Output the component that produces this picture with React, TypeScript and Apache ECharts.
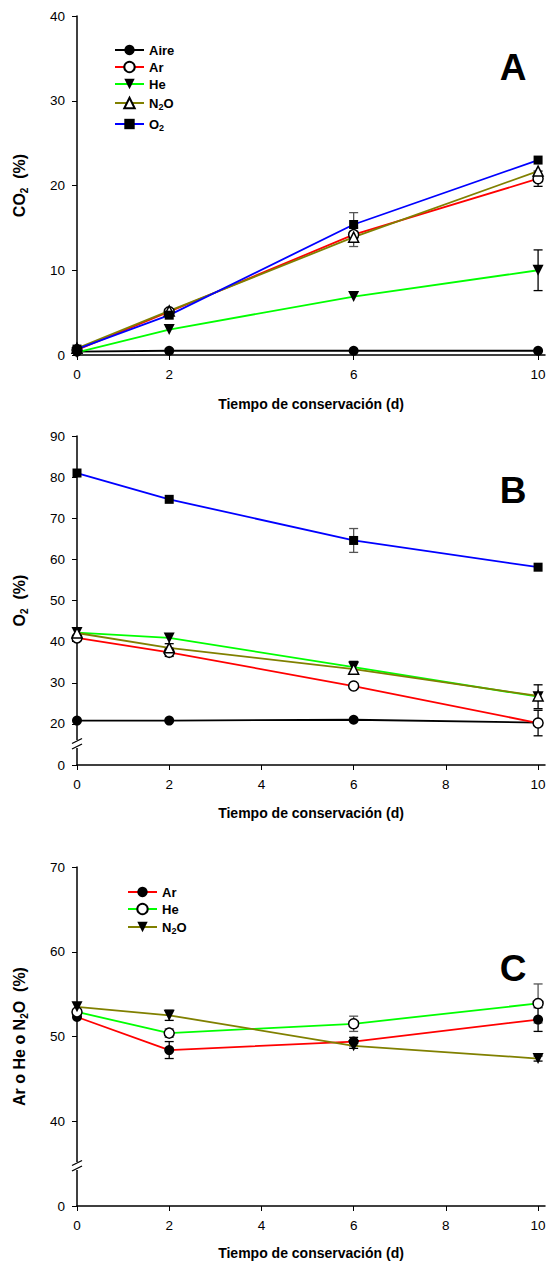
import React, { useEffect, useRef } from "react";
import * as echarts from "echarts";

const FONT = "'Liberation Sans', Arial, Helvetica, sans-serif";

// ---------- Panel A: CO2 (%) ----------
const daysA = [0, 2, 6, 10];
const co2Aire = [0.4, 0.5, 0.5, 0.5];
const co2Ar = [0.6, 5.1, 14.2, 20.8];
const co2He = [0.3, 3.0, 6.9, 10.0];
const co2N2O = [0.8, 5.2, 13.9, 21.7];
const co2O2 = [0.7, 4.7, 15.4, 23.0];
const co2ArErr = [0, 0, 0.4, 0.9];
const co2HeErr = [0, 0, 0, 2.4];
const co2N2OErr = [0, 0, 1.1, 0];
const co2O2Err = [0, 0, 1.4, 0];

// ---------- Panel B: O2 (%) ----------
const daysB = [0, 2, 6, 10];
const o2Aire = [20.8, 20.8, 21.0, 20.3];
const o2Ar = [40.9, 37.4, 29.2, 20.2];
const o2He = [42.2, 40.9, 33.8, 26.6];
const o2N2O = [42.1, 38.5, 33.3, 26.8];
const o2O2 = [81.0, 74.6, 64.6, 58.1];
const o2ArErr = [0, 1.0, 0, 3.1];
const o2HeErr = [0, 0, 1.4, 2.9];
const o2N2OErr = [0, 1.0, 0, 0];
const o2O2Err = [0, 0, 2.9, 0];

// ---------- Panel C: Ar o He o N2O (%) ----------
const daysC = [0, 2, 6, 10];
const gasAr = [52.3, 48.4, 49.4, 52.0];
const gasHe = [52.9, 50.4, 51.5, 53.9];
const gasN2O = [53.5, 52.5, 48.9, 47.4];
const gasArErr = [0, 1.0, 0.5, 1.4];
const gasHeErr = [0, 0.5, 0.9, 2.3];
const gasN2OErr = [0, 0.6, 0.3, 0.3];

const ticksA = [0, 2, 6, 10];
const ticksBC = [0, 2, 4, 6, 8, 10];

const RED = "#ff0000";
const GREEN = "#00ff00";
const OLIVE = "#808000";
const BLUE = "#0000ff";
const BLACK = "#000000";

const sub = (s: string) => s.replace(/2/g, "{sub|2}");

type Mk = { symbol: string; rotate?: number; open?: boolean; size: number };
const MK_FILLED_CIRCLE: Mk = { symbol: "circle", size: 10 };
const MK_OPEN_CIRCLE: Mk = { symbol: "circle", size: 10, open: true };
const MK_TRI_DOWN: Mk = { symbol: "triangle", rotate: 180, size: 11 };
const MK_OPEN_TRI: Mk = { symbol: "triangle", size: 10, open: true };
const MK_SQUARE: Mk = { symbol: "rect", size: 9 };

function lineSeries(name: string, xs: number[], ys: number[], color: string, mk: Mk, axis: number) {
  return {
    type: "line",
    name,
    xAxisIndex: axis,
    yAxisIndex: axis,
    data: xs.map((x, i) => [x, ys[i]]),
    symbol: mk.symbol,
    symbolSize: mk.size,
    symbolRotate: mk.rotate || 0,
    showAllSymbol: true,
    lineStyle: { color, width: 1.8 },
    itemStyle: mk.open
      ? { color: "#ffffff", borderColor: BLACK, borderWidth: 1.5 }
      : { color: BLACK, borderColor: BLACK, borderWidth: 0 },
    emphasis: { disabled: true },
    z: 3,
  };
}

function errSeries(xs: number[], ys: number[], errs: number[], color: string, axis: number) {
  const data = xs
    .map((x, i) => [x, ys[i] - errs[i], ys[i] + errs[i]])
    .filter((_, i) => errs[i] > 0);
  return {
    type: "custom",
    xAxisIndex: axis,
    yAxisIndex: axis,
    silent: true,
    z: 2,
    encode: { x: 0, y: [1, 2] },
    data,
    renderItem: (params: any, api: any) => {
      const x = api.value(0);
      const lo = api.value(1);
      const hi = api.value(2);
      const p1 = api.coord([x, hi]);
      const p2 = api.coord([x, lo]);
      const w = 4.5;
      const st = { stroke: color, lineWidth: 1.3 };
      return {
        type: "group",
        children: [
          { type: "line", shape: { x1: p1[0], y1: p1[1], x2: p2[0], y2: p2[1] }, style: st },
          { type: "line", shape: { x1: p1[0] - w, y1: p1[1], x2: p1[0] + w, y2: p1[1] }, style: st },
          { type: "line", shape: { x1: p2[0] - w, y1: p2[1], x2: p2[0] + w, y2: p2[1] }, style: st },
        ],
      };
    },
  };
}

function legendItem(name: string, left: number, top: number) {
  return {
    data: [name],
    left,
    top,
    orient: "vertical",
    itemWidth: 29,
    itemHeight: 13,
    itemGap: 0,
    padding: 0,
    selectedMode: false,
    formatter: (n: string) => sub(n.trim()),
    textStyle: {
      fontFamily: FONT,
      fontSize: 13,
      fontWeight: "bold",
      color: BLACK,
      lineHeight: 16,
      rich: {
        sub: { fontSize: 9, fontWeight: "bold", fontFamily: FONT, verticalAlign: "bottom", lineHeight: 8 },
      },
    },
  };
}

function xAxis(grid: number, ticks: number[], nameGap: number) {
  return {
    type: "value",
    gridIndex: grid,
    min: 0,
    max: 10.15,
    name: "Tiempo de conservación (d)",
    nameLocation: "middle",
    nameGap,
    nameTextStyle: { fontFamily: FONT, fontSize: 14, fontWeight: "bold", color: BLACK },
    axisLine: { show: true, onZero: false, lineStyle: { color: BLACK, width: 1.5 } },
    axisTick: { show: true, customValues: ticks, length: 5, lineStyle: { color: BLACK, width: 1 } },
    axisLabel: {
      customValues: ticks,
      margin: 12,
      fontFamily: FONT,
      fontSize: 13.5,
      color: BLACK,
      showMaxLabel: true,
    },
    splitLine: { show: false },
  };
}

function yAxis(grid: number, min: number, max: number, breakAt: number | null, name: string, nameGap: number) {
  return {
    type: "value",
    gridIndex: grid,
    min,
    max,
    interval: 10,
    name,
    nameLocation: "middle",
    nameRotate: 90,
    nameGap,
    nameTextStyle: {
      fontFamily: FONT,
      fontSize: 16,
      fontWeight: "bold",
      color: BLACK,
      lineHeight: 20,
      rich: {
        sub: { fontSize: 10, fontWeight: "bold", fontFamily: FONT, verticalAlign: "bottom", lineHeight: 10 },
      },
    },
    axisLine: { show: true, onZero: false, lineStyle: { color: BLACK, width: 1.5 } },
    axisTick: { show: true, length: 5, lineStyle: { color: BLACK, width: 1 } },
    axisLabel: {
      margin: 12,
      fontFamily: FONT,
      fontSize: 13.5,
      color: BLACK,
      formatter: (v: number) => (breakAt !== null && v === breakAt ? "0" : String(v)),
    },
    splitLine: { show: false },
  };
}

function breakMark(x: number, y: number) {
  const st = { stroke: BLACK, lineWidth: 1.3 };
  return [
    { type: "rect", shape: { x: x - 3, y: y - 4, width: 6, height: 8 }, style: { fill: "#ffffff" }, z: 100 },
    { type: "line", shape: { x1: x - 5, y1: y - 0.5, x2: x + 5, y2: y - 5.5 }, style: st, z: 101 },
    { type: "line", shape: { x1: x - 5, y1: y + 5, x2: x + 5, y2: y }, style: st, z: 101 },
  ];
}

function letter(t: string, x: number, y: number) {
  return {
    type: "text",
    x,
    y,
    style: {
      text: t,
      fontFamily: FONT,
      fontSize: 37,
      fontWeight: "bold",
      fill: BLACK,
      align: "center",
      verticalAlign: "middle",
    },
  };
}

export default function App() {
  const ref = useRef<HTMLDivElement>(null);
  useEffect(() => {
    if (!ref.current) return;
    const chart = echarts.init(ref.current, null, { renderer: "svg" });
    const option: any = {
      animation: false,
      backgroundColor: "#ffffff",
      grid: [
        { left: 77, top: 16, width: 468, height: 339 },
        { left: 77, top: 436, width: 468, height: 329 },
        { left: 77, top: 867, width: 468, height: 339 },
      ],
      xAxis: [xAxis(0, ticksA, 42), xAxis(1, ticksBC, 41), xAxis(2, ticksBC, 40)],
      yAxis: [
        yAxis(0, 0, 40, null, "CO{sub|2}  (%)", 48),
        yAxis(1, 10, 90, 10, "O{sub|2}  (%)", 48),
        yAxis(2, 30, 70, 30, "Ar o He o N{sub|2}O  (%)", 48),
      ],
      legend: [
        legendItem("Aire", 114, 42),
        legendItem("Ar", 114, 59),
        legendItem("He", 114, 76),
        legendItem("N2O", 114, 95),
        legendItem("O2", 114, 116),
        legendItem("Ar ", 127, 884),
        legendItem("He ", 127, 901),
        legendItem("N2O ", 127, 919),
      ],
      series: [
        errSeries(daysA, co2Ar, co2ArErr, BLACK, 0),
        errSeries(daysA, co2He, co2HeErr, BLACK, 0),
        errSeries(daysA, co2N2O, co2N2OErr, "#555555", 0),
        errSeries(daysA, co2O2, co2O2Err, "#555555", 0),
        lineSeries("Aire", daysA, co2Aire, BLACK, MK_FILLED_CIRCLE, 0),
        lineSeries("Ar", daysA, co2Ar, RED, MK_OPEN_CIRCLE, 0),
        lineSeries("He", daysA, co2He, GREEN, MK_TRI_DOWN, 0),
        lineSeries("N2O", daysA, co2N2O, OLIVE, MK_OPEN_TRI, 0),
        lineSeries("O2", daysA, co2O2, BLUE, MK_SQUARE, 0),

        errSeries(daysB, o2Ar, o2ArErr, BLACK, 1),
        errSeries(daysB, o2He, o2HeErr, BLACK, 1),
        errSeries(daysB, o2N2O, o2N2OErr, BLACK, 1),
        errSeries(daysB, o2O2, o2O2Err, "#555555", 1),
        lineSeries("Aire", daysB, o2Aire, BLACK, MK_FILLED_CIRCLE, 1),
        lineSeries("Ar", daysB, o2Ar, RED, MK_OPEN_CIRCLE, 1),
        lineSeries("He", daysB, o2He, GREEN, MK_TRI_DOWN, 1),
        lineSeries("N2O", daysB, o2N2O, OLIVE, MK_OPEN_TRI, 1),
        lineSeries("O2", daysB, o2O2, BLUE, MK_SQUARE, 1),

        errSeries(daysC, gasAr, gasArErr, BLACK, 2),
        errSeries(daysC, gasHe, gasHeErr, "#555555", 2),
        errSeries(daysC, gasN2O, gasN2OErr, BLACK, 2),
        lineSeries("Ar ", daysC, gasAr, RED, MK_FILLED_CIRCLE, 2),
        lineSeries("He ", daysC, gasHe, GREEN, MK_OPEN_CIRCLE, 2),
        lineSeries("N2O ", daysC, gasN2O, OLIVE, MK_TRI_DOWN, 2),
      ],
      graphic: [
        letter("A", 513, 67),
        letter("B", 513, 490),
        letter("C", 513, 968),
        ...breakMark(77, 744),
        ...breakMark(77, 1166),
      ],
    };
    chart.setOption(option);
    return () => chart.dispose();
  }, []);
  return (
    <div
      ref={ref}
      style={{ position: "absolute", left: 0, top: 0, width: 549, height: 1266, background: "#fff" }}
    />
  );
}
